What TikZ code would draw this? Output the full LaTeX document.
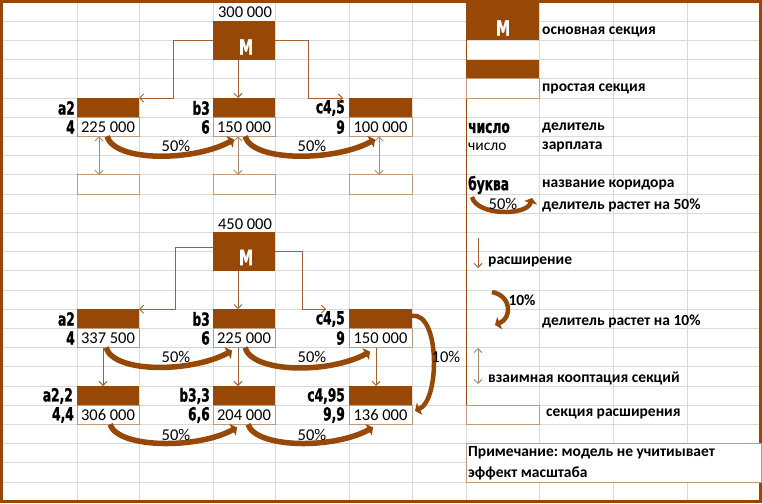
\documentclass[tikz,border=0pt]{standalone}
\usepackage{fontspec}
\setmainfont{Carlito}
\newfontfamily\impactf{DejaVu Sans}[FakeStretch=0.68,FakeBold=1.2]
\usetikzlibrary{arrows.meta,calc}
\definecolor{brn}{RGB}{151,71,6}
\definecolor{gridc}{RGB}{218,218,218}
\definecolor{tanc}{RGB}{190,155,125}
\definecolor{thinc}{RGB}{165,95,45}
\definecolor{dblc}{RGB}{175,135,105}
\frenchspacing
\begin{document}
\begin{tikzpicture}[x=1pt,y=-1pt,
  hdr/.style={fill=brn,draw=none,inner sep=0pt,outer sep=0pt,minimum height=19.2pt,anchor=north west},
  mbox/.style={fill=brn,draw=none,inner sep=0pt,outer sep=0pt,minimum width=62pt,minimum height=38.4pt,anchor=north west},
  wbox/.style={fill=white,draw=tanc,line width=0.9pt,inner sep=0pt,outer sep=0pt,minimum height=19.2pt,anchor=north west,font=\fontsize{16.5}{17}\selectfont},
  lbl/.style={anchor=east,inner sep=0pt,font=\impactf\bfseries\fontsize{18}{18}\selectfont},
  llbl/.style={anchor=west,inner sep=0pt,font=\impactf\bfseries\fontsize{18}{18}\selectfont},
  mtext/.style={inner sep=0pt,text=white,font=\impactf\bfseries\fontsize{21}{21}\selectfont},
  num/.style={inner sep=0pt,font=\fontsize{16.5}{17}\selectfont},
  leg/.style={anchor=west,inner sep=0pt,font=\bfseries\fontsize{15.5}{17}\selectfont},
  conn/.style={draw=thinc,line width=0.9pt,-{Straight Barb[length=4pt,width=8pt]}},
  dbl/.style={draw=dblc,line width=0.9pt,{Straight Barb[length=4pt,width=8pt]}-{Straight Barb[length=4pt,width=8pt]}},
  big/.style={draw=brn,line width=5.5pt,-{Triangle[length=5pt,width=13pt]}},
]
\useasboundingbox (0,0) rectangle (762,503);
\fill[white] (0,0) rectangle (762,503);
% grid
\foreach \k in {1,...,25} \draw[gridc,line width=0.9pt] (3,{2+19.2*\k}) -- (760,{2+19.2*\k});
\foreach \x in {77,139,213,275,349,412,466,539,613,687} \draw[gridc,line width=0.9pt] (\x,2) -- (\x,501);
% border
\draw[brn,line width=3pt] (1.5,1.2) rectangle (760.5,501.8);

% ===== top diagram =====
\node[num] (t300) at (245,12) {300 000};
\node[mbox] (M1) at (213,21.2) {};
\node[mtext] (M1t) at (246,47) {M};
\node[hdr,minimum width=62pt] (a2h) at (77,98) {};
\node[hdr,minimum width=62pt] (b3h) at (213,98) {};
\node[hdr,minimum width=63pt] (c45h) at (349,98) {};
\node[wbox,minimum width=62pt] (a2v) at (77,117.2) {225 000};
\node[wbox,minimum width=62pt] (b3v) at (213,117.2) {150 000};
\node[wbox,minimum width=63pt] (c45v) at (349,117.2) {100 000};
\node[lbl] (a2l) at (75,108) {a2};
\node[lbl] (a2n) at (75,127) {4};
\node[lbl] (b3l) at (210,108) {b3};
\node[lbl] (b3n) at (210,127) {6};
\node[lbl] (c45l) at (345,108) {c4,5};
\node[lbl] (c45n) at (345,127) {9};
\node[wbox,minimum width=62pt] (a2e) at (77,174.8) {};
\node[wbox,minimum width=62pt] (b3e) at (213,174.8) {};
\node[wbox,minimum width=63pt] (c45e) at (349,174.8) {};
\draw[conn] (M1.west) -- ++(-40,0) |- (a2h.north east);
\draw[conn] (M1.east) -- ++(33,0) |- ($(c45h.north west)+(-6,0)$);
\draw[conn] ($(M1.south)+(-6,0)$) -- ($(b3h.north)+(-6,0)$);
\draw[dbl] ($(a2v.south west)+(22,0)$) -- ($(a2e.north west)+(22,0)$);
\draw[dbl] ($(b3v.south west)+(25,0)$) -- ($(b3e.north west)+(25,0)$);
\draw[dbl] ($(c45v.south west)+(30,0)$) -- ($(c45e.north west)+(30,0)$);
\draw[big] ($(a2v.south west)+(30,0)$) .. controls +(8,26) and +(-40,22) .. ($(b3v.south west)+(21,3)$);
\draw[big] ($(b3v.south west)+(32,0)$) .. controls +(8,26) and +(-40,22) .. ($(c45v.south west)+(26,3)$);
\node[num] (p1) at (176,146) {50\%};
\node[num] (p2) at (312,146) {50\%};

% ===== bottom diagram =====
\node[num] (t450) at (245,224) {450 000};
\node[mbox] (M2) at (213,232.4) {};
\node[mtext] (M2t) at (246,257.5) {M};
\node[hdr,minimum width=62pt] (a2h2) at (77,309.2) {};
\node[hdr,minimum width=62pt] (b3h2) at (213,309.2) {};
\node[hdr,minimum width=63pt] (c45h2) at (349,309.2) {};
\node[wbox,minimum width=62pt] (a2v2) at (77,328.4) {337 500};
\node[wbox,minimum width=62pt] (b3v2) at (213,328.4) {225 000};
\node[wbox,minimum width=63pt] (c45v2) at (349,328.4) {150 000};
\node[lbl] (a2l2) at (75,319) {a2};
\node[lbl] (a2n2) at (75,338) {4};
\node[lbl] (b3l2) at (210,319) {b3};
\node[lbl] (b3n2) at (210,338) {6};
\node[lbl] (c45l2) at (345,319) {c4,5};
\node[lbl] (c45n2) at (345,338) {9};
\node[hdr,minimum width=62pt] (a2h3) at (77,386) {};
\node[hdr,minimum width=62pt] (b3h3) at (213,386) {};
\node[hdr,minimum width=63pt] (c45h3) at (349,386) {};
\node[wbox,minimum width=62pt] (a2v3) at (77,405.2) {306 000};
\node[wbox,minimum width=62pt] (b3v3) at (213,405.2) {204 000};
\node[wbox,minimum width=63pt] (c45v3) at (349,405.2) {136 000};
\node[lbl] (a2l3) at (73,396) {a2,2};
\node[lbl] (a2n3) at (74,415) {4,4};
\node[lbl] (b3l3) at (210,396) {b3,3};
\node[lbl] (b3n3) at (210,415) {6,6};
\node[lbl] (c45l3) at (345,396) {c4,95};
\node[lbl] (c45n3) at (345,415) {9,9};
\draw[conn] ($(M2.west)+(0,-4.6)$) -- ++(-38,0) |- (a2h2.north east);
\draw[conn] (M2.east) -- ++(27,0) |- ($(c45h2.north west)+(-23,0)$);
\draw[conn] ($(M2.south)+(-6,0)$) -- ($(b3h2.north)+(-6,0)$);
\draw[conn] ($(a2v2.south west)+(26,0)$) -- ($(a2h3.north west)+(26,0)$);
\draw[conn] ($(b3v2.south west)+(25,0)$) -- ($(b3h3.north west)+(25,0)$);
\draw[conn] ($(c45v2.south west)+(27,0)$) -- ($(c45h3.north west)+(27,0)$);
\draw[big] ($(a2v2.south west)+(29,0)$) .. controls +(8,26) and +(-40,22) .. ($(b3v2.south west)+(19,3)$);
\draw[big] ($(b3v2.south west)+(32,0)$) .. controls +(8,26) and +(-40,22) .. ($(c45v2.south west)+(21,4)$);
\draw[big] ($(a2v3.south west)+(33,0)$) .. controls +(8,24) and +(-40,22) .. ($(b3v3.south west)+(24,3)$);
\draw[big] ($(b3v3.south west)+(35,0)$) .. controls +(8,24) and +(-40,22) .. ($(c45v3.south west)+(24,3)$);
\draw[big,line width=4.5pt] ($(c45h2.east)+(0,-3)$) .. controls +(28,-4) and +(25,-11) .. ($(c45v3.east)+(3,-4)$);
\node[num] (p3) at (176,357) {50\%};
\node[num] (p4) at (312,357) {50\%};
\node[num] (p5) at (176,435) {50\%};
\node[num] (p6) at (312,435) {50\%};
\node[num] (p7) at (446,357) {10\%};

% ===== legend =====
\draw[brn,line width=1pt] (466,2) -- (466,405.2);
\node[hdr,minimum width=73pt,minimum height=38.4pt] (LM) at (466,2) {};
\node[mtext] (LMt) at (503,28) {M};
\node[leg] (L1) at (542,32) {основная секция};
\node[hdr,minimum width=73pt] (LSh) at (466,59.6) {};
\node[wbox,minimum width=73pt] (LSv) at (466,78.8) {};
\node[leg] (L2) at (542,89) {простая секция};
\node[llbl] (Lc1) at (468,128) {число};
\node[leg] (L3) at (542,128) {делитель};
\node[anchor=west,inner sep=0pt,font=\fontsize{15.5}{17}\selectfont] (Lc2) at (468,147) {число};
\node[leg] (L4) at (542,147) {зарплата};
\node[llbl] (Lb) at (468,185) {буква};
\node[leg] (L5) at (542,185) {название коридора};
\coordinate (a50s) at (472,197);
\coordinate (a50e) at (532,198);
\draw[big,line width=4.5pt] (a50s) .. controls (477,216) and (527,216) .. (a50e);
\node[num] (L50) at (503,204) {50\%};
\node[leg] (L6) at (542,205) {делитель растет на 50\%};
\coordinate (rs) at (478,238);
\coordinate (re) at (478,268);
\draw[conn] (rs) -- (re);
\node[leg] (L7) at (488,262) {расширение};
\coordinate (t10s) at (492,292);
\coordinate (t10e) at (495,325);
\draw[big,line width=4.5pt] (t10s) .. controls (512,296) and (512,318) .. (t10e);
\node[num,font=\bfseries\fontsize{15.5}{17}\selectfont] (L10) at (522,300) {10\%};
\node[leg] (L8) at (542,321) {делитель растет на 10\%};
\coordinate (ds) at (478,348);
\coordinate (de) at (478,384);
\draw[dbl] (ds) -- (de);
\node[leg] (L9) at (488,378) {взаимная кооптация секций};
\node[wbox,minimum width=73pt] (LE) at (466,405.2) {};
\node[leg] (L11) at (546,414) {секция расширения};
\node[wbox,minimum width=295pt,minimum height=38.4pt] (LN) at (466,443.6) {};
\node[leg] (L12) at (468,453) {Примечание: модель не учитиывает};
\node[leg] (L13) at (468,473) {эффект масштаба};
\end{tikzpicture}
\end{document}
